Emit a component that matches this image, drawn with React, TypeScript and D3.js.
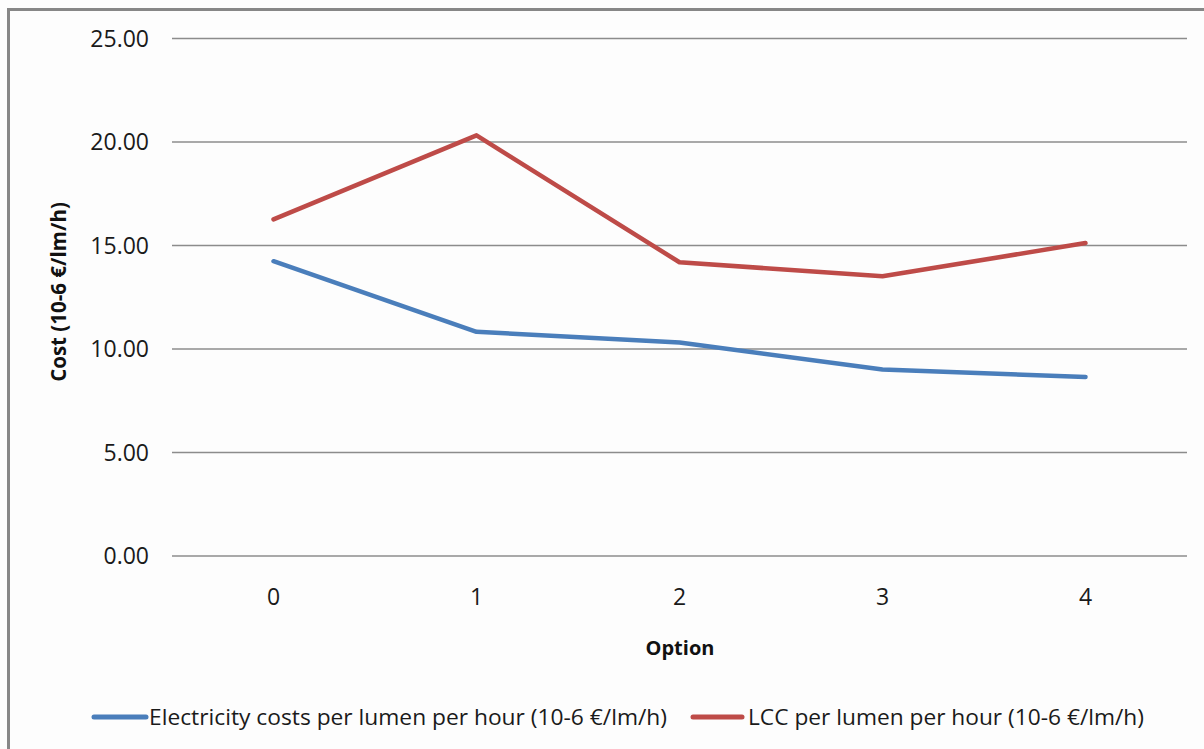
import React from "react";
import * as d3 from "d3";

const options = ["0", "1", "2", "3", "4"];
const electricityCost = [14.24, 10.83, 10.31, 9.01, 8.65];
const lccCost = [16.26, 20.32, 14.19, 13.51, 15.12];
const yTicks = [0, 5, 10, 15, 20, 25];
const seriesNames = [
  "Electricity costs per lumen per hour (10-6 €/lm/h)",
  "LCC per lumen per hour (10-6 €/lm/h)",
];
const seriesColors = ["#4A7EBB", "#BE4B48"];

const W = 1204;
const H = 749;
const FONT = "'Open Sans', 'Noto Sans', sans-serif";

export default function App() {
  const x = d3.scaleBand<string>().domain(options).range([172, 1187]);
  const y = d3.scaleLinear().domain([0, 25]).range([556, 38.5]);
  const cx = (d: string) => (x(d) ?? 0) + x.bandwidth() / 2;

  const line = d3
    .line<number>()
    .x((_, i) => cx(options[i]))
    .y((v) => y(v));

  const series = [electricityCost, lccCost];

  return (
    <svg
      width={W}
      height={H}
      style={{ position: "absolute", left: 0, top: 0, background: "#FDFDFD" }}
      fontFamily={FONT}
    >
      <rect x={0} y={0} width={W} height={H} fill="#FDFDFD" />
      {/* chart frame */}
      <path d={`M8.5,${H} V9.5 H${W}`} fill="none" stroke="#878787" strokeWidth={3} />

      {/* horizontal gridlines and y tick labels */}
      {yTicks.map((t) => (
        <g key={t}>
          <line x1={172} x2={1187} y1={y(t)} y2={y(t)} stroke="#8C8C8C" strokeWidth={1.5} />
          <text
            x={149}
            y={y(t)}
            dy="0.36em"
            textAnchor="end"
            fontSize={23}
            fill="#1a1a1a"
          >
            {t.toFixed(2)}
          </text>
        </g>
      ))}

      {/* x tick labels */}
      {options.map((o) => (
        <text key={o} x={cx(o)} y={605} textAnchor="middle" fontSize={23} fill="#1a1a1a">
          {o}
        </text>
      ))}

      {/* axis titles */}
      <text x={680} y={655} textAnchor="middle" fontSize={20} fontWeight="bold" fill="#111">
        Option
      </text>
      <text
        transform={`translate(66,292) rotate(-90)`}
        textAnchor="middle"
        fontSize={20.5}
        fontWeight="bold"
        fill="#111"
      >
        Cost (10-6 €/lm/h)
      </text>

      {/* series lines */}
      {series.map((vals, i) => (
        <path
          key={i}
          d={line(vals) ?? ""}
          fill="none"
          stroke={seriesColors[i]}
          strokeWidth={4.5}
          strokeLinejoin="round"
          strokeLinecap="round"
        />
      ))}

      {/* legend */}
      {[
        { x0: 94, x1: 146, tx: 149, tl: 518 },
        { x0: 693, x1: 742, tx: 748, tl: 396 },
      ].map((l, i) => (
        <g key={i}>
          <line
            x1={l.x0}
            x2={l.x1}
            y1={717}
            y2={717}
            stroke={seriesColors[i]}
            strokeWidth={5}
            strokeLinecap="round"
          />
          <text
            x={l.tx}
            y={717}
            dy="0.36em"
            fontSize={22}
            fill="#1a1a1a"
            textLength={l.tl}
            lengthAdjust="spacingAndGlyphs"
          >
            {seriesNames[i]}
          </text>
        </g>
      ))}
    </svg>
  );
}
